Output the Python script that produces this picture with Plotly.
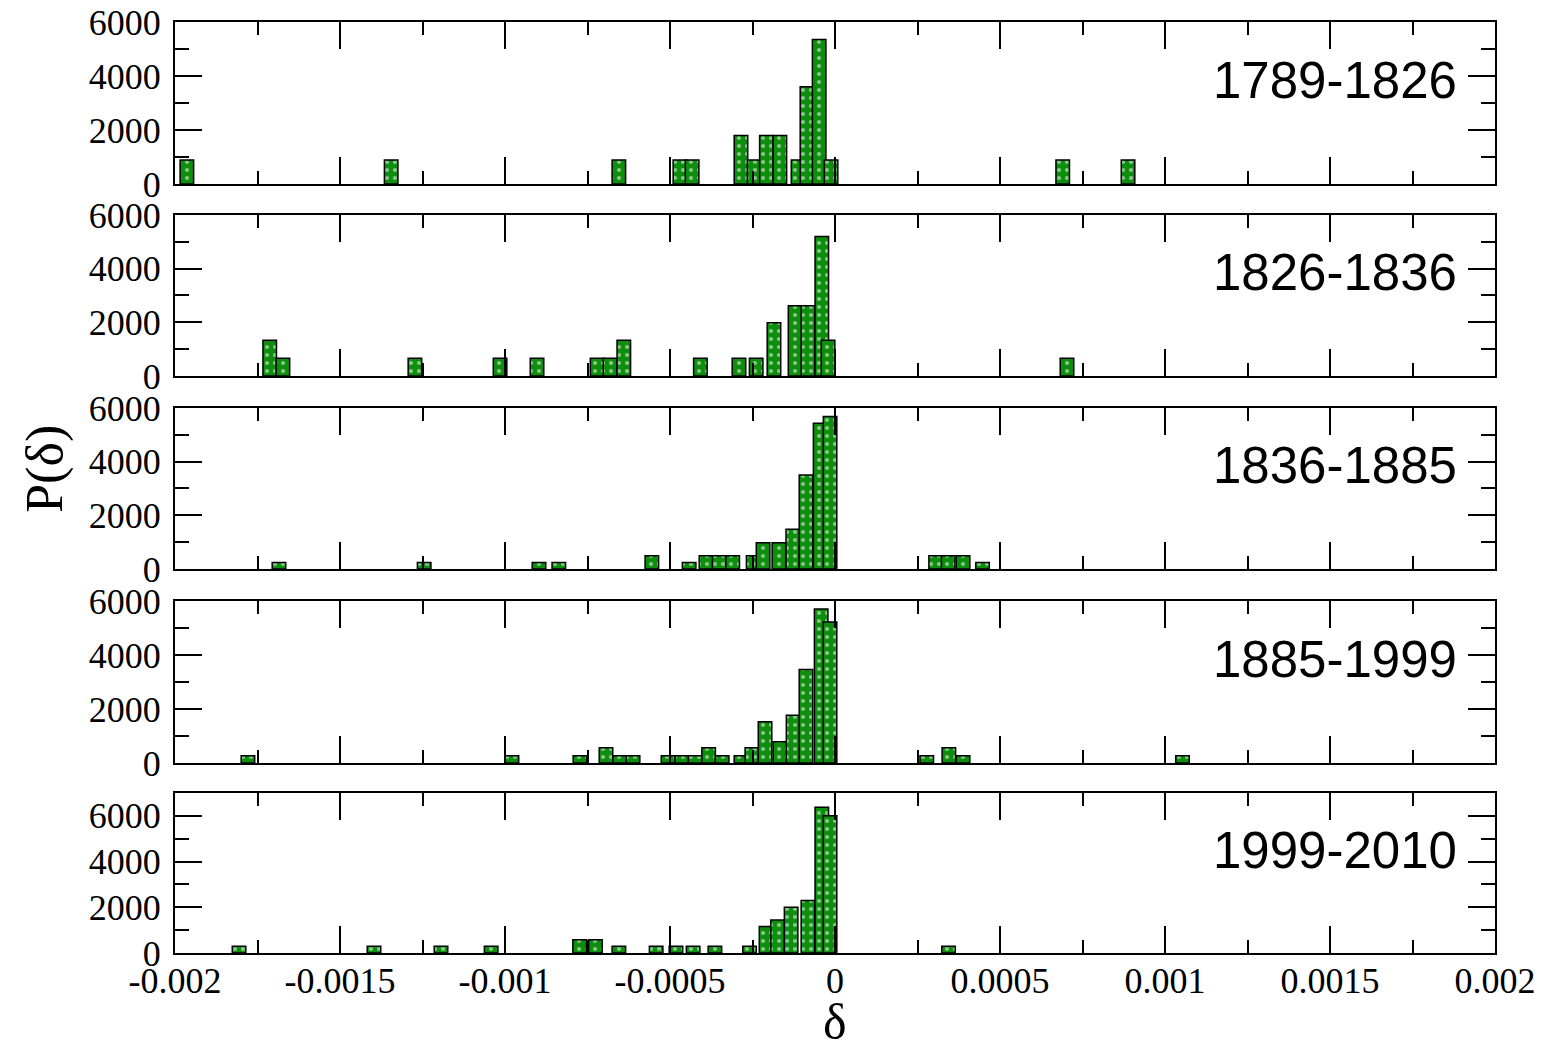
import plotly.graph_objects as go

# ---------------- data ----------------
labels = ["1789-1826", "1826-1836", "1836-1885", "1885-1999", "1999-2010"]

delta_1 = [-0.001964, -0.001345, -0.000655, -0.000470, -0.000433, -0.000285, -0.000245,
           -0.000208, -0.000167, -0.000112, -0.000085, -0.000048, -0.000012, 0.000690, 0.000888]
p_1 = [890, 890, 890, 890, 890, 1800, 890, 1800, 1800, 890, 3600, 5350, 890, 890, 890]

delta_2 = [-0.001713, -0.001673, -0.001273, -0.001015, -0.000903, -0.000721, -0.000682,
           -0.000640, -0.000408, -0.000291, -0.000239, -0.000185, -0.000121, -0.000082,
           -0.000040, -0.000021, 0.000703]
p_2 = [1330, 660, 660, 660, 660, 660, 660, 1330, 660, 660, 660, 1980, 2620, 2620, 5200, 1330, 660]

delta_3 = [-0.001685, -0.001245, -0.000897, -0.000837, -0.000555, -0.000442, -0.000391,
           -0.000351, -0.000310, -0.000248, -0.000218, -0.000170, -0.000128, -0.000088,
           -0.000045, -0.000015, 0.000305, 0.000343, 0.000388, 0.000447]
p_3 = [240, 240, 240, 240, 490, 240, 490, 490, 490, 490, 980, 980, 1480, 3500, 5430, 5680,
       490, 490, 490, 240]

delta_4 = [-0.001779, -0.000979, -0.000773, -0.000694, -0.000652, -0.000612, -0.000506,
           -0.000464, -0.000424, -0.000383, -0.000342, -0.000285, -0.000252, -0.000212,
           -0.000167, -0.000127, -0.000088, -0.000042, -0.000015, 0.000278, 0.000345,
           0.000388, 0.001053]
p_4 = [270, 270, 270, 560, 270, 270, 270, 270, 270, 560, 270, 270, 560, 1530, 790, 1770,
       3460, 5700, 5220, 270, 560, 270, 270]

delta_5 = [-0.001806, -0.001397, -0.001194, -0.001042, -0.000774, -0.000726, -0.000655,
           -0.000542, -0.000482, -0.000430, -0.000364, -0.000259, -0.000209, -0.000174,
           -0.000133, -0.000082, -0.000040, -0.000015, 0.000344]
p_5 = [290, 290, 290, 290, 580, 580, 290, 290, 290, 290, 290, 290, 1160, 1440, 2000, 2300,
       6370, 6000, 290]

x_tickvals = [-0.002, -0.0015, -0.001, -0.0005, 0, 0.0005, 0.001, 0.0015, 0.002]
x_ticktext = ["-0.002", "-0.0015", "-0.001", "-0.0005", "0", "0.0005", "0.001", "0.0015", "0.002"]
y_tickvals = [0, 2000, 4000, 6000]
y_max = [6000, 6000, 6000, 6000, 7000]

deltas = [delta_1, delta_2, delta_3, delta_4, delta_5]
probs = [p_1, p_2, p_3, p_4, p_5]

# ---------------- figure ----------------
BAR_W = 4.1e-5
GREEN = "#0d8f0d"
domains = [[0.826, 1.0], [0.6198, 0.7927], [0.4125, 0.5854], [0.2041, 0.3781], [0.0, 0.1719]]
SERIF = "Liberation Serif, Times New Roman, serif"
SANS = "Liberation Sans, Arial, sans-serif"

fig = go.Figure()
layout = dict(
    width=1544, height=1047,
    margin=dict(l=167, r=57, t=14, b=102),
    paper_bgcolor="white", plot_bgcolor="white",
    barmode="overlay", showlegend=False,
    font=dict(family=SERIF, color="black"),
)

for i in range(5):
    n = i + 1
    xa = "x" if n == 1 else f"x{n}"
    ya = "y" if n == 1 else f"y{n}"
    fig.add_trace(go.Bar(
        x=deltas[i], y=probs[i], width=BAR_W,
        xaxis=xa, yaxis=ya,
        marker=dict(color=GREEN, line=dict(color="black", width=1.5),
                    pattern=dict(shape=".", fillmode="overlay", fgcolor="white",
                                 size=8, solidity=0.22)),
    ))
    xkey = "xaxis" if n == 1 else f"xaxis{n}"
    ykey = "yaxis" if n == 1 else f"yaxis{n}"
    layout[xkey] = dict(
        anchor=ya, domain=[0, 1], range=[-0.002, 0.002],
        tickmode="array", tickvals=x_tickvals, ticktext=x_ticktext,
        showticklabels=(n == 5), automargin=False, ticklabeloverflow="allow",
        ticks="inside", ticklen=27, tickwidth=2, tickcolor="black",
        minor=dict(ticks="inside", ticklen=13, tickwidth=2, tickcolor="black",
                   dtick=0.0005, tick0=-0.00175, showgrid=False),
        showline=True, linecolor="black", linewidth=2, mirror="allticks",
        showgrid=False, zeroline=False,
        tickfont=dict(family=SERIF, size=36, color="black"),
        ticklabelstandoff=-5,
    )
    if n != 1:
        layout[xkey]["matches"] = "x"
    layout[ykey] = dict(
        anchor=xa, domain=domains[i], range=[0, y_max[i]], automargin=False,
        ticklabeloverflow="allow",
        tickmode="array", tickvals=y_tickvals,
        ticks="inside", ticklen=27, tickwidth=2, tickcolor="black",
        minor=dict(ticks="inside", ticklen=14, tickwidth=2, tickcolor="black",
                   dtick=2000, tick0=1000, showgrid=False),
        showline=True, linecolor="black", linewidth=2, mirror="allticks",
        showgrid=False, zeroline=False,
        tickfont=dict(family=SERIF, size=36, color="black"),
        ticklabelstandoff=5,
    )

fig.update_layout(**layout)

annotations = []
for i in range(5):
    n = i + 1
    xa = "x" if n == 1 else f"x{n}"
    ya = "y" if n == 1 else f"y{n}"
    annotations.append(dict(
        text=labels[i], xref=f"{xa} domain", yref=f"{ya} domain",
        x=0.973, y=0.64, xanchor="right", yanchor="middle", showarrow=False,
        font=dict(family=SANS, size=51, color="black"),
    ))
annotations.append(dict(text="P(δ)", xref="paper", yref="paper", x=-0.0985, y=0.52,
                        xanchor="center", yanchor="middle", textangle=-90, showarrow=False,
                        font=dict(family=SERIF, size=52, color="black")))
annotations.append(dict(text="δ", xref="paper", yref="paper", x=0.5, y=-0.074,
                        xanchor="center", yanchor="middle", showarrow=False,
                        font=dict(family=SERIF, size=50, color="black")))
fig.update_layout(annotations=annotations)

fig.write_html("out.html")
